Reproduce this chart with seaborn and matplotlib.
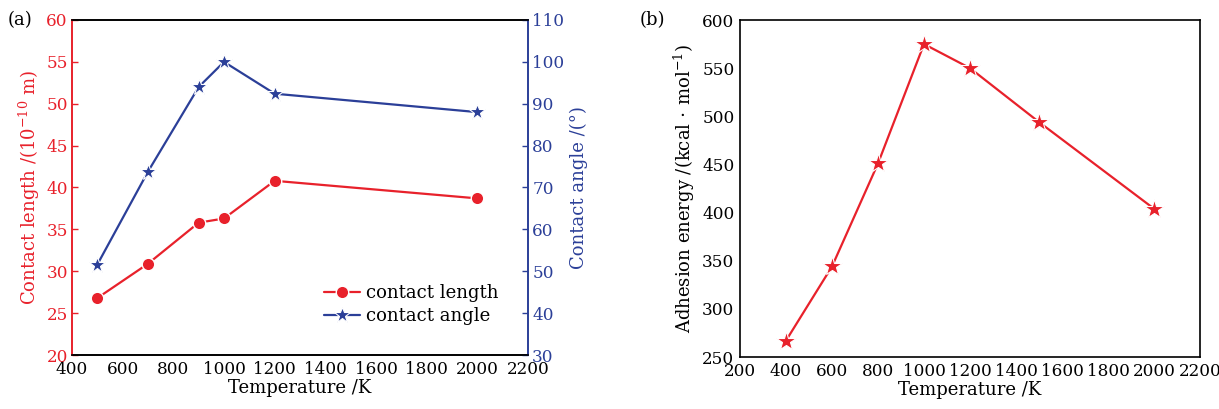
import matplotlib.pyplot as plt
import pandas as pd
import seaborn as sns

# panel (a)
temp_a = [500, 700, 900, 1000, 1200, 2000]
contact_length = [26.8, 30.9, 35.8, 36.3, 40.8, 38.7]
contact_angle = [51.6, 73.8, 94.0, 100.0, 92.4, 88.0]

# panel (b)
temp_b = [400, 600, 800, 1000, 1200, 1500, 2000]
adhesion = [267, 344, 451, 575, 550, 494, 404]

RED = "#e8212b"
BLUE = "#2b3f98"

sns.set_theme(style="white")
plt.rcParams["font.family"] = ["DejaVu Serif"]
plt.rcParams["mathtext.fontset"] = "dejavuserif"
plt.rcParams["text.color"] = "black"
plt.rcParams["axes.labelcolor"] = "black"

fig = plt.figure(figsize=(12.19, 4.09), dpi=100)
ax1 = fig.add_axes([72 / 1219, 1 - 355 / 409, 456 / 1219, 335 / 409])
ax3 = fig.add_axes([740 / 1219, 1 - 357 / 409, 460 / 1219, 337 / 409])

fs = 13        # axis labels, legend
tfs = 12.2     # tick labels

# ---- (a)
df_a = pd.DataFrame({"T": temp_a, "len": contact_length, "ang": contact_angle})
sns.lineplot(data=df_a, x="T", y="len", ax=ax1, color=RED, marker="o",
             markersize=9, markeredgecolor="white", markeredgewidth=1.0,
             linewidth=1.6, label="contact length", legend=False)
ax2 = ax1.twinx()
sns.lineplot(data=df_a, x="T", y="ang", ax=ax2, color=BLUE, marker="*",
             markersize=12, markeredgecolor="white", markeredgewidth=0.8,
             linewidth=1.6, label="contact angle", legend=False)

ax1.set_xlim(400, 2200)
ax1.set_ylim(20, 60)
ax2.set_ylim(30, 110)
ax1.set_xticks(range(400, 2201, 200))
ax1.set_yticks(range(20, 61, 5))
ax2.set_yticks(range(30, 111, 10))

ax1.set_xlabel("Temperature /K", fontsize=fs, labelpad=1)
ax1.set_ylabel(r"Contact length /(10$^{-10}$ m)", fontsize=fs, color=RED, labelpad=3)
ax2.set_ylabel("Contact angle /(°)", fontsize=fs, color=BLUE, labelpad=4)

ax1.tick_params(axis="x", direction="in", labelsize=tfs, length=4, width=1, colors="black", pad=4)
ax1.tick_params(axis="y", direction="in", labelsize=tfs, length=4, width=1, colors=RED, pad=3)
ax2.tick_params(axis="y", direction="in", labelsize=tfs, length=4, width=1, colors=BLUE, pad=3)

for ax in (ax1, ax2):
    for s in ax.spines.values():
        s.set_visible(True)
        s.set_linewidth(1.2)
        s.set_color("black")
    ax.spines["left"].set_color(RED)
    ax.spines["right"].set_color(BLUE)

h1, l1 = ax1.get_legend_handles_labels()
h2, l2 = ax2.get_legend_handles_labels()
ax2.legend(h1 + h2, l1 + l2, loc="lower right", frameon=False, fontsize=fs,
           handlelength=2.0, handletextpad=0.3, labelspacing=0.3,
           bbox_to_anchor=(0.97, 0.04))

fig.text(8 / 1219, 1 - 20 / 409, "(a)", fontsize=fs, va="center", ha="left")

# ---- (b)
df_b = pd.DataFrame({"T": temp_b, "E": adhesion})
sns.lineplot(data=df_b, x="T", y="E", ax=ax3, color=RED, marker="*",
             markersize=15, markeredgecolor="white", markeredgewidth=0.8,
             linewidth=1.6, legend=False)
ax3.set_xlim(200, 2200)
ax3.set_ylim(250, 600)
ax3.set_xticks(range(200, 2201, 200))
ax3.set_yticks(range(250, 601, 50))
ax3.set_xlabel("Temperature /K", fontsize=fs, labelpad=1)
ax3.set_ylabel(r"Adhesion energy /(kcal$\,\cdot\,$mol$^{-1}$)", fontsize=fs, labelpad=4)
ax3.tick_params(axis="both", direction="in", labelsize=tfs, length=4, width=1,
                colors="black", pad=4, top=False, right=False)
for s in ax3.spines.values():
    s.set_visible(True)
    s.set_linewidth(1.2)
    s.set_color("black")

fig.text(640 / 1219, 1 - 20 / 409, "(b)", fontsize=fs, va="center", ha="left")

fig.savefig("out.png", dpi=100, facecolor="white")
